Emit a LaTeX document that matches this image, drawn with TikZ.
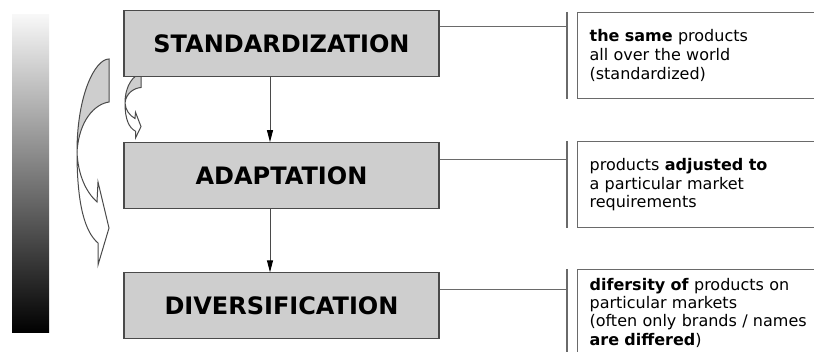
\documentclass[tikz,border=0pt]{standalone}
\usepackage{fontspec}
\setmainfont{DejaVu Sans}
\usepackage{xcolor}
\usepackage{tikz}
\usetikzlibrary{shapes,arrows.meta,positioning}
\definecolor{boxgray}{HTML}{CECECE}
\definecolor{edgegray}{HTML}{4A4A4A}
\definecolor{linegray}{HTML}{6A6A6A}
\newcommand{\twistarrow}{%
    \filldraw[fill=boxgray, draw=edgegray, line width=1pt]
        (32,-93) -- (32,-50) .. controls (18,-48) and (2,-32) .. (0,0)
        .. controls (0,-57) and (18,-93) .. (32,-93) -- cycle;
    \filldraw[fill=white, draw=edgegray, line width=1pt]
        (0,0) .. controls (1,23) and (9,40) .. (20,50) -- (21,30) -- (32,76)
        -- (21,113) -- (21,91) .. controls (8,80) and (0,53) .. (0,0) -- cycle;
}

\begin{document}
\begin{tikzpicture}[x=1pt, y=-1pt,
    stage/.style={draw=edgegray, line width=1.2pt, fill=boxgray,
        minimum width=315pt, minimum height=66pt,
        font=\fontsize{24}{28}\selectfont\bfseries},
    note/.style={draw=linegray, line width=1.2pt, anchor=north west,
        align=left, inner xsep=12pt, inner ysep=12pt, minimum height=86pt,
        text width=232pt, font=\fontsize{16}{18.7}\selectfont},
    bar/.style={draw=linegray, line width=1.5pt},
    link/.style={draw=linegray, line width=1pt},
    flow/.style={draw=edgegray, line width=1pt,
        -{Triangle[length=12pt, width=6pt, color=black]}}]
\useasboundingbox (0,0) rectangle (814,352);

    % Scale bar
    \shade[top color=gray!6, bottom color=black] (12,15) rectangle (49,333);

    % Twisted arrows
    \begin{scope}[shift={(77,152)}]
        \twistarrow
    \end{scope}
    \begin{scope}[shift={(125,103)}, xscale=0.5, yscale=0.31]
        \twistarrow
    \end{scope}

    % Stages
    \node[stage] (std) at (281.5,43.5) {STANDARDIZATION};
    \node[stage, below=65pt of std] (adp) {ADAPTATION};
    \node[stage, below=63pt of adp] (div) {DIVERSIFICATION};

    \draw[flow] ([xshift=-11.5pt]std.south) -- ([xshift=-11.5pt]adp.north);
    \draw[flow] ([xshift=-11.5pt]adp.south) -- ([xshift=-11.5pt]div.north);

    % Descriptions
    \node[note] (same) at (577,12)
        {\textbf{the same} products\\all over the world\\(standardized)};
    \node[note] (adjust) at (577,141)
        {products \textbf{adjusted to}\\a particular market\\requirements};
    \node[note, inner ysep=8pt, font=\fontsize{16}{18.4}\selectfont] (divers) at (577,269)
        {\textbf{difersity of} products on\\particular markets\\(often only brands / names\\\textbf{are differed})};

    % Bars and links
    \foreach \n/\s in {same/std, adjust/adp, divers/div} {
        \draw[bar] ([xshift=-10pt]\n.north west) -- ([xshift=-10pt]\n.south west);
        \coordinate (b-\n) at ([xshift=-10pt]\n.west);
        \coordinate (e-\n) at ([yshift=16.5pt]\s.east);
        \draw[link] (e-\n) -- (e-\n -| b-\n);
    }
\end{tikzpicture}
\end{document}
